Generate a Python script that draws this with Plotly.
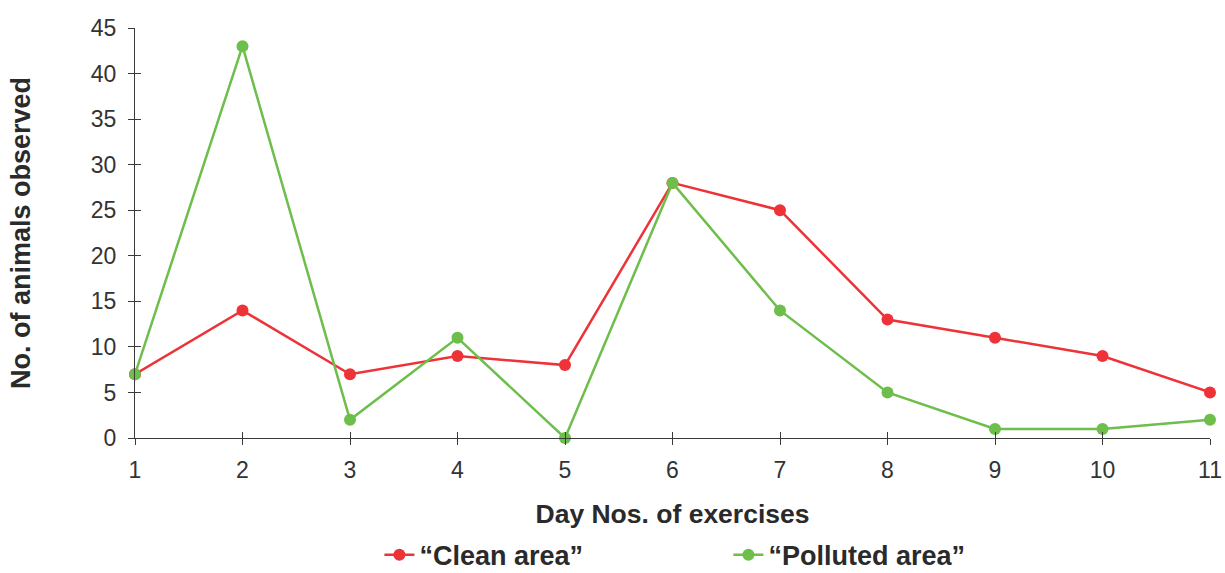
import plotly.graph_objects as go

days = [1, 2, 3, 4, 5, 6, 7, 8, 9, 10, 11]
clean = [7, 14, 7, 9, 8, 28, 25, 13, 11, 9, 5]
polluted = [7, 43, 2, 11, 0, 28, 14, 5, 1, 1, 2]
y_ticks = [0, 5, 10, 15, 20, 25, 30, 35, 40, 45]

RED = "#EE3338"
GREEN = "#6DBE4B"
AX = "#3a3a3a"
FONT = "Liberation Sans"

fig = go.Figure()
fig.add_trace(go.Scatter(x=days, y=clean, mode="lines+markers", name="“Clean area”",
                         line=dict(color=RED, width=2.5), marker=dict(color=RED, size=12),
                         cliponaxis=False))
fig.add_trace(go.Scatter(x=days, y=polluted, mode="lines+markers", name="“Polluted area”",
                         line=dict(color=GREEN, width=2.5), marker=dict(color=GREEN, size=12),
                         cliponaxis=False))
# invisible trace to carry the overlay axes (inner half of the crossing ticks)
fig.add_trace(go.Scatter(x=[days[0]], y=[y_ticks[0]], xaxis="x2", yaxis="y2", mode="markers",
                         marker=dict(opacity=0), showlegend=False, hoverinfo="skip"))

fig.update_layout(
    width=1225, height=573,
    margin=dict(l=135, r=15, t=28, b=135, autoexpand=False),
    paper_bgcolor="white", plot_bgcolor="white",
    font=dict(family=FONT, color="#333333"),
    showlegend=True,
    legend=dict(orientation="h", xanchor="center", x=0.552, yanchor="middle", y=-0.286,
                font=dict(family=FONT, size=27, color="#2a2a2a", weight="bold"),
                entrywidth=304, entrywidthmode="pixels"),
    xaxis=dict(range=[1, 11], tickvals=days, ticks="outside", ticklen=6, tickcolor=AX, tickwidth=1.3,
               showline=True, linecolor=AX, linewidth=1.3, showgrid=False, zeroline=False,
               automargin=False, ticklabelstandoff=5,
               tickfont=dict(size=23, color="#333333"),
               title=dict(text="Day Nos. of exercises", standoff=22,
                          font=dict(size=26.5, color="#2a2a2a", weight="bold"))),
    yaxis=dict(range=[0, 45], tickvals=y_ticks, ticks="outside", ticklen=6, tickcolor=AX, tickwidth=1.3,
               showline=True, linecolor=AX, linewidth=1.3, showgrid=False, zeroline=False,
               automargin=False, ticklabelstandoff=7,
               tickfont=dict(size=23, color="#333333"),
               title=dict(text="No. of animals observed", standoff=52,
                          font=dict(size=27, color="#2a2a2a", weight="bold"))),
    xaxis2=dict(range=[1, 11], tickvals=days, overlaying="x", side="bottom", ticks="inside", ticklen=6,
                tickcolor=AX, tickwidth=1.3, showticklabels=False, showgrid=False, zeroline=False,
                showline=False),
    yaxis2=dict(range=[0, 45], tickvals=y_ticks, overlaying="y", side="left", ticks="inside", ticklen=6,
                tickcolor=AX, tickwidth=1.3, showticklabels=False, showgrid=False, zeroline=False,
                showline=False),
)

fig.write_html("out.html", config={"displayModeBar": False},
               post_script="document.body.style.margin='0';")
